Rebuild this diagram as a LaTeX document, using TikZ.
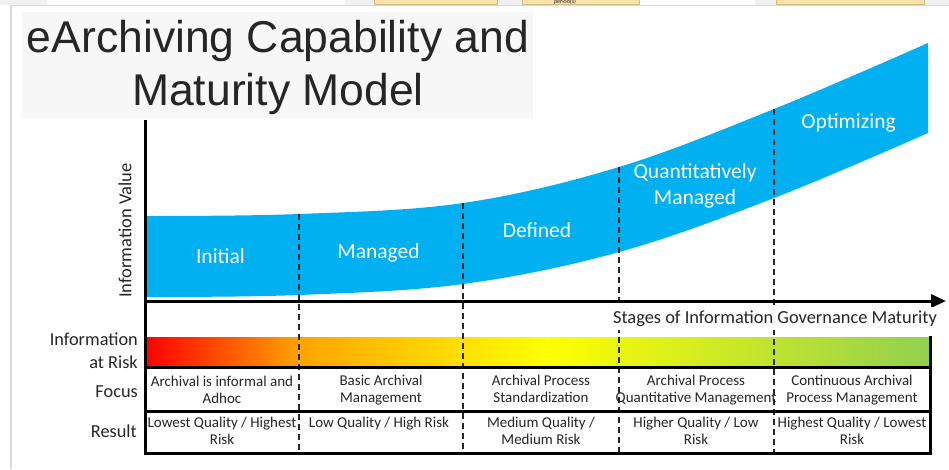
\documentclass[tikz,border=0pt]{standalone}
\usepackage{fontspec}
\setmainfont{Carlito}
\newfontfamily\titlefont{Liberation Sans}
\usetikzlibrary{arrows.meta}
\definecolor{bandblue}{HTML}{00B0F0}
\definecolor{riskorange}{HTML}{FFA500}
\definecolor{riskgreen}{HTML}{92D050}
\definecolor{ink}{HTML}{262626}
\definecolor{tanbox}{HTML}{F9E2AE}
\definecolor{tanedge}{HTML}{D9B878}
\definecolor{titlebg}{HTML}{F7F7F7}
\definecolor{framegray}{HTML}{D9D9D9}
\pgfdeclarehorizontalshading{riskbar}{100bp}{color(0bp)=(red); color(25bp)=(red); color(34.9bp)=(riskorange); color(50.5bp)=(yellow); color(75bp)=(riskgreen); color(100bp)=(riskgreen)}
\tikzset{
  stagesep/.style={draw=ink, line width=1.9pt, dash pattern=on 6pt off 4pt},
  thickline/.style={draw=black, line width=3pt},
  bandlabel/.style={text=white, font=\fontsize{21.5}{26}\selectfont, inner sep=0pt, anchor=base, align=center},
  sidelabel/.style={text=ink, font=\fontsize{18.3}{24}\selectfont, inner sep=0pt, anchor=base east},
  cell/.style={text=ink, font=\fontsize{15}{17}\selectfont, inner sep=0pt, anchor=base, align=center},
}
\begin{document}
\begin{tikzpicture}[x=1pt,y=-1pt]
\useasboundingbox (0,0) rectangle (949,469);
% screenshot strip and page frame
\fill[white] (0,0) rectangle (949,469);
\fill[gray!12] (0,0) rectangle (949,5);
\fill[white] (47,0) rectangle (345,4.5);
\fill[white] (639,0) rectangle (755,4.5);
\foreach \a/\b in {374/497,522/639,776/924}{
  \filldraw[fill=tanbox, draw=tanedge, line width=0.6pt] (\a,-2) rectangle (\b,4.5);
}
\begin{scope}
\clip (522,0) rectangle (639,4.5);
\node[font=\fontsize{6}{6}\selectfont, text=ink, inner sep=0pt, anchor=base] (period) at (565,3) {period(s)};
\end{scope}
\draw[framegray, line width=1.2pt] (11,469) -- (11,5.5) -- (949,5.5);
% title
\fill[titlebg] (22,12) rectangle (533,118);
\node[font=\titlefont\fontsize{44.5}{53}\selectfont, text=ink, inner sep=0pt, anchor=base] (title1) at (278,52) {eArchiving Capability and};
\node[font=\titlefont\fontsize{44.5}{53}\selectfont, text=ink, inner sep=0pt, anchor=base] (title2) at (278,105) {Maturity Model};
% blue band
\fill[bandblue] plot[smooth, tension=0.6] coordinates {(147,216) (299,214) (463,203) (619,167) (774,109) (928,43)}
  -- plot[smooth, tension=0.6] coordinates {(928,133) (774,198) (619,252) (463,284) (299,295) (147,297)} -- cycle;
% risk bar
\shade[shading=riskbar] (146,337) rectangle (930,366);
% dashed stage separators
\coordinate (s1t) at (299,214); \coordinate (s1b) at (299,453);
\coordinate (s2t) at (463,203); \coordinate (s2b) at (463,453);
\coordinate (s3t) at (619,167); \coordinate (s3b) at (619,453);
\coordinate (s4t) at (774,109); \coordinate (s4b) at (774,453);
\draw[stagesep] (s1t) -- (s1b);
\draw[stagesep] (s2t) -- (s2b);
\draw[stagesep] (s3t) -- (s3b);
\draw[stagesep] (s4t) -- (s4b);
% axes
\coordinate (ytop) at (145,120); \coordinate (ybot) at (145,455);
\coordinate (xo) at (145,301); \coordinate (xend) at (946,301);
\draw[thickline] (ytop) -- (ybot);
\draw[thickline, -{Triangle[length=15pt,width=13pt]}] (xo) -- (xend);
% table lines
\coordinate (l1a) at (145,367.5); \coordinate (l1b) at (932,367.5);
\coordinate (l2a) at (145,411); \coordinate (l2b) at (932,411);
\coordinate (l3a) at (143.5,453.5); \coordinate (l3b) at (932,453.5);
\coordinate (rbt) at (930.5,336); \coordinate (rbb) at (930.5,455);
\draw[thickline] (l1a) -- (l1b);
\draw[thickline] (l2a) -- (l2b);
\draw[thickline] (l3a) -- (l3b);
\draw[thickline] (rbt) -- (rbb);
% band labels
\node[bandlabel] (initial) at (220.5,263) {Initial};
\node[bandlabel] (managed) at (378.5,258) {Managed};
\node[bandlabel] (defined) at (537,237) {Defined};
\node[bandlabel] (quant) at (695,204) {Quantitatively\\Managed};
\node[bandlabel] (optim) at (848.5,128) {Optimizing};
% axis labels
\node[text=ink, font=\fontsize{18.5}{22}\selectfont, inner sep=0pt, rotate=90] (yval) at (125,230.5) {Information Value};
\node[text=ink, fill=white, font=\fontsize{18.4}{22}\selectfont, inner xsep=2pt, inner ysep=3.5pt, anchor=base] (xlab) at (775,323) {Stages of Information Governance Maturity};
% row labels
\node[sidelabel] (risk) at (138,345) {Information};
\node[sidelabel] (risk2) at (138,368) {at Risk};
\node[sidelabel] (focus) at (138,397) {Focus};
\node[sidelabel] (result) at (137,437) {Result};
% focus row
\node[cell] (f1) at (222,403) {Archival is informal and\\Adhoc};
\node[cell] (f2) at (381,402) {Basic Archival\\Management};
\node[cell] (f3) at (541,402) {Archival Process\\Standardization};
\node[cell] (f4) at (696,402) {Archival Process\\Quantitative Management};
\node[cell] (f5) at (852,402) {Continuous Archival\\Process Management};
% result row
\node[cell] (r1) at (222,444) {Lowest Quality / Highest\\Risk};
\node[cell] (r2) at (379,427) {Low Quality / High Risk};
\node[cell] (r3) at (541,444) {Medium Quality /\\Medium Risk};
\node[cell] (r4) at (696,444) {Higher Quality / Low\\Risk};
\node[cell] (r5) at (852,444) {Highest Quality / Lowest\\Risk};
\end{tikzpicture}
\end{document}
